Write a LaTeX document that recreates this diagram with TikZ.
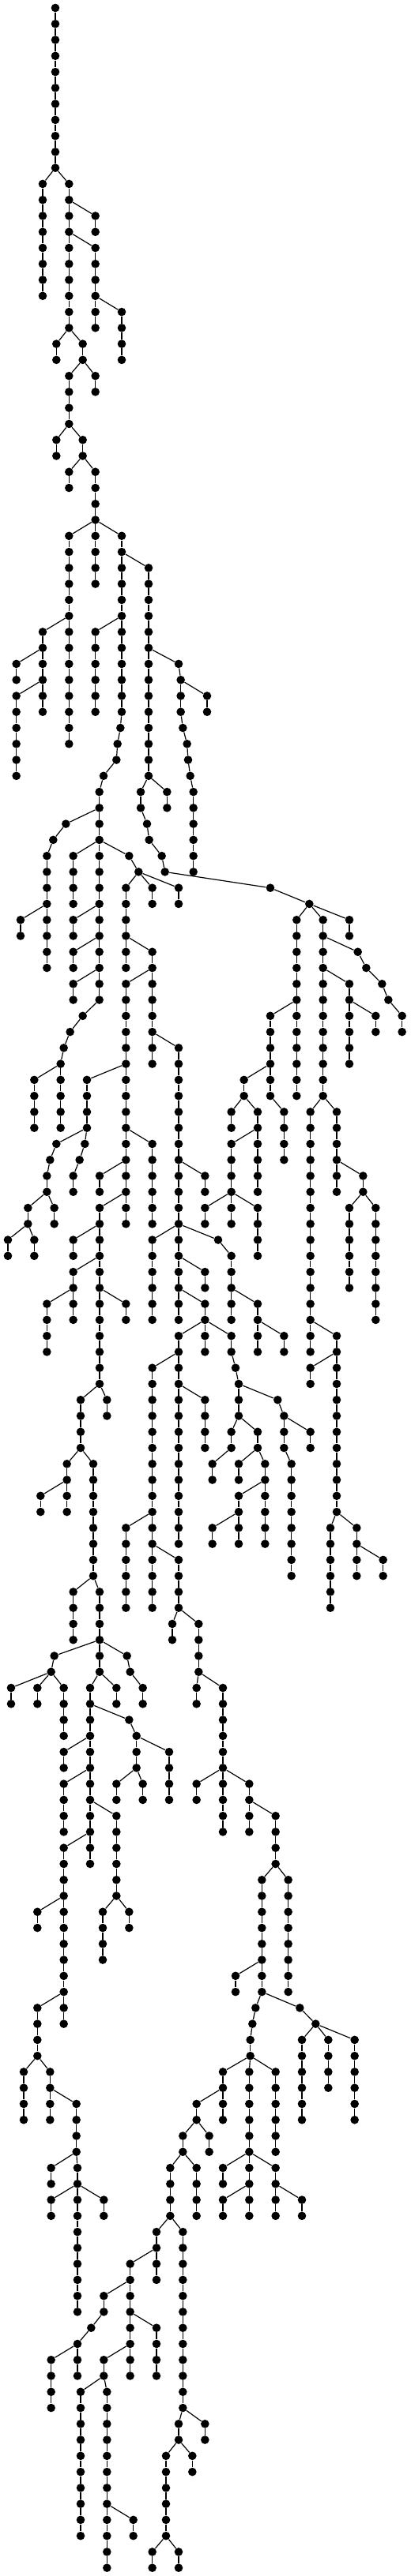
\documentclass[tikz,border=0pt]{standalone}
\tikzset{tnode/.style={circle,fill=black,draw=none,inner sep=0pt,minimum size=5.3pt},
lnk/.style={line width=0.6pt,black}}
\newcommand\mychain[3]{%
 \foreach \l in {#2,...,#3}{\node[tnode] (n#1-\l) at (#1,\l) {};}%
 \ifnum#3>#2\relax
 \foreach \l in {#2,...,#3}{\ifnum\l<#3\relax\pgfmathtruncatemacro\lnx{\l+1}\draw[lnk] (n#1-\l) -- (n#1-\lnx);\fi}%
 \fi}
\newcommand\mylink[4]{\draw[lnk] (n#1-#2) -- (n#3-#4);}
\begin{document}
\begin{tikzpicture}[x=0.166667pt,y=-10.13333pt]
\useasboundingbox (0,-0.4934) rectangle (1557,160.51);
\mychain{210}{0}{10}
\mychain{162}{11}{18} \mylink{210}{10}{162}{11}
\mychain{262}{11}{20} \mylink{210}{10}{262}{11}
\mychain{362}{13}{14} \mylink{262}{12}{362}{13}
\mychain{362}{15}{20} \mylink{262}{14}{362}{15}
\mychain{462}{19}{22} \mylink{362}{18}{462}{19}
\mychain{214}{21}{22} \mylink{262}{20}{214}{21}
\mychain{314}{21}{22} \mylink{262}{20}{314}{21}
\mychain{262}{23}{26} \mylink{314}{22}{262}{23}
\mychain{362}{23}{24} \mylink{314}{22}{362}{23}
\mychain{214}{27}{28} \mylink{262}{26}{214}{27}
\mychain{314}{27}{28} \mylink{262}{26}{314}{27}
\mychain{262}{29}{30} \mylink{314}{28}{262}{29}
\mychain{362}{29}{36} \mylink{314}{28}{362}{29}
\mychain{262}{33}{46} \mylink{362}{32}{262}{33}
\mychain{462}{33}{44} \mylink{362}{32}{462}{33}
\mychain{564}{35}{48} \mylink{462}{34}{564}{35}
\mychain{162}{39}{44} \mylink{262}{38}{162}{39}
\mychain{362}{39}{44} \mylink{462}{38}{362}{39}
\mychain{62}{41}{42} \mylink{162}{40}{62}{41}
\mychain{62}{43}{48} \mylink{162}{42}{62}{43}
\mychain{457}{45}{45} \mylink{462}{44}{457}{45}
\mychain{446}{46}{46} \mylink{457}{45}{446}{46}
\mychain{442}{47}{47} \mylink{446}{46}{442}{47}
\mychain{393}{48}{48} \mylink{442}{47}{393}{48}
\mychain{377}{49}{62} \mylink{393}{48}{377}{49}
\mychain{250}{51}{51} \mylink{377}{50}{250}{51}
\mychain{202}{52}{52} \mylink{250}{51}{202}{52}
\mychain{178}{53}{60} \mylink{202}{52}{178}{53}
\mychain{278}{53}{56} \mylink{377}{52}{278}{53}
\mychain{490}{53}{53} \mylink{377}{52}{490}{53}
\mychain{526}{54}{54} \mylink{490}{53}{526}{54}
\mychain{678}{41}{41} \mylink{564}{40}{678}{41}
\mychain{686}{42}{44} \mylink{678}{41}{686}{42}
\mychain{786}{43}{44} \mylink{686}{42}{786}{43}
\mychain{694}{45}{45} \mylink{686}{44}{694}{45}
\mychain{710}{46}{46} \mylink{694}{45}{710}{46}
\mychain{714}{47}{47} \mylink{710}{46}{714}{47}
\mychain{722}{48}{48} \mylink{714}{47}{722}{48}
\mychain{734}{49}{54} \mylink{722}{48}{734}{49}
\mychain{534}{49}{50} \mylink{564}{48}{534}{49}
\mychain{634}{49}{50} \mylink{564}{48}{634}{49}
\mychain{558}{51}{51} \mylink{534}{50}{558}{51}
\mychain{566}{52}{52} \mylink{558}{51}{566}{52}
\mychain{614}{53}{53} \mylink{566}{52}{614}{53}
\mychain{626}{54}{54} \mylink{614}{53}{626}{54}
\mychain{78}{57}{58} \mylink{178}{56}{78}{57}
\mychain{278}{57}{58} \mylink{377}{56}{278}{57}
\mychain{278}{59}{60} \mylink{377}{58}{278}{59}
\mychain{278}{61}{62} \mylink{377}{60}{278}{61}
\mychain{314}{63}{63} \mylink{377}{62}{314}{63}
\mychain{266}{64}{64} \mylink{314}{63}{266}{64}
\mychain{242}{65}{65} \mylink{266}{64}{242}{65}
\mychain{230}{66}{70} \mylink{242}{65}{230}{66}
\mychain{130}{67}{70} \mylink{230}{66}{130}{67}
\mychain{578}{55}{56} \mylink{526}{54}{578}{55}
\mychain{678}{55}{56} \mylink{526}{54}{678}{55}
\mychain{478}{55}{60} \mylink{526}{54}{478}{55}
\mychain{578}{59}{66} \mylink{478}{58}{578}{59}
\mychain{478}{61}{76} \mylink{578}{60}{478}{61}
\mychain{678}{65}{82} \mylink{578}{64}{678}{65}
\mychain{330}{67}{70} \mylink{478}{66}{330}{67}
\mychain{1026}{55}{55} \mylink{626}{54}{1026}{55}
\mychain{1174}{56}{56} \mylink{1026}{55}{1174}{56}
\mychain{1126}{57}{68} \mylink{1174}{56}{1126}{57}
\mychain{1226}{57}{68} \mylink{1174}{56}{1226}{57}
\mychain{1326}{57}{58} \mylink{1174}{56}{1326}{57}
\mychain{1358}{59}{59} \mylink{1226}{58}{1358}{59}
\mychain{1390}{60}{60} \mylink{1358}{59}{1390}{60}
\mychain{1450}{61}{61} \mylink{1390}{60}{1450}{61}
\mychain{1474}{62}{62} \mylink{1450}{61}{1474}{62}
\mychain{1526}{63}{64} \mylink{1474}{62}{1526}{63}
\mychain{1326}{61}{66} \mylink{1226}{60}{1326}{61}
\mychain{1426}{63}{64} \mylink{1326}{62}{1426}{63}
\mychain{1026}{63}{68} \mylink{1126}{62}{1026}{63}
\mychain{1078}{69}{72} \mylink{1026}{68}{1078}{69}
\mychain{926}{67}{68} \mylink{1026}{66}{926}{67}
\mychain{878}{69}{70} \mylink{926}{68}{878}{69}
\mychain{978}{69}{74} \mylink{926}{68}{978}{69}
\mychain{878}{71}{76} \mylink{978}{70}{878}{71}
\mychain{778}{75}{76} \mylink{878}{74}{778}{75}
\mychain{978}{75}{78} \mylink{878}{74}{978}{75}
\mychain{1178}{69}{84} \mylink{1226}{68}{1178}{69}
\mychain{1278}{69}{74} \mylink{1226}{68}{1278}{69}
\mychain{1378}{73}{74} \mylink{1278}{72}{1378}{73}
\mychain{1326}{75}{80} \mylink{1378}{74}{1326}{75}
\mychain{1426}{75}{82} \mylink{1378}{74}{1426}{75}
\mychain{214}{71}{71} \mylink{330}{70}{214}{71}
\mychain{190}{72}{72} \mylink{214}{71}{190}{72}
\mychain{178}{73}{74} \mylink{190}{72}{178}{73}
\mychain{206}{75}{76} \mylink{178}{74}{206}{75}
\mychain{106}{75}{76} \mylink{178}{74}{106}{75}
\mychain{30}{77}{78} \mylink{106}{76}{30}{77}
\mychain{130}{77}{78} \mylink{106}{76}{130}{77}
\mychain{322}{71}{71} \mylink{330}{70}{322}{71}
\mychain{302}{72}{72} \mylink{322}{71}{302}{72}
\mychain{278}{73}{74} \mylink{302}{72}{278}{73}
\mychain{578}{71}{76} \mylink{478}{70}{578}{71}
\mychain{378}{73}{74} \mylink{478}{72}{378}{73}
\mychain{378}{75}{86} \mylink{478}{74}{378}{75}
\mychain{278}{77}{78} \mylink{378}{76}{278}{77}
\mychain{278}{79}{82} \mylink{378}{78}{278}{79}
\mychain{178}{81}{84} \mylink{278}{80}{178}{81}
\mychain{478}{81}{82} \mylink{378}{80}{478}{81}
\mychain{406}{87}{88} \mylink{378}{86}{406}{87}
\mychain{306}{87}{90} \mylink{378}{86}{306}{87}
\mychain{254}{91}{94} \mylink{306}{90}{254}{91}
\mychain{354}{91}{98} \mylink{306}{90}{354}{91}
\mychain{154}{93}{94} \mylink{254}{92}{154}{93}
\mychain{778}{73}{74} \mylink{678}{72}{778}{73}
\mychain{578}{77}{82} \mylink{678}{76}{578}{77}
\mychain{828}{77}{77} \mylink{678}{76}{828}{77}
\mychain{878}{78}{82} \mylink{828}{77}{878}{78}
\mychain{778}{79}{80} \mylink{678}{78}{778}{79}
\mychain{778}{81}{84} \mylink{678}{80}{778}{81}
\mychain{678}{83}{96} \mylink{778}{82}{678}{83}
\mychain{878}{83}{84} \mylink{778}{82}{878}{83}
\mychain{894}{85}{85} \mylink{878}{84}{894}{85}
\mychain{906}{86}{88} \mylink{894}{85}{906}{86}
\mychain{978}{81}{84} \mylink{878}{80}{978}{81}
\mychain{1078}{83}{84} \mylink{978}{82}{1078}{83}
\mychain{578}{85}{100} \mylink{678}{84}{578}{85}
\mychain{778}{87}{90} \mylink{678}{86}{778}{87}
\mychain{1054}{87}{87} \mylink{906}{86}{1054}{87}
\mychain{1078}{88}{90} \mylink{1054}{87}{1078}{88}
\mychain{1106}{91}{98} \mylink{1078}{90}{1106}{91}
\mychain{1178}{89}{90} \mylink{1078}{88}{1178}{89}
\mychain{878}{89}{90} \mylink{906}{88}{878}{89}
\mychain{978}{89}{90} \mylink{906}{88}{978}{89}
\mychain{806}{91}{92} \mylink{878}{90}{806}{91}
\mychain{906}{91}{92} \mylink{978}{90}{906}{91}
\mychain{1006}{91}{96} \mylink{978}{90}{1006}{91}
\mychain{906}{93}{96} \mylink{1006}{92}{906}{93}
\mychain{806}{95}{96} \mylink{906}{94}{806}{95}
\mychain{1278}{83}{94} \mylink{1178}{82}{1278}{83}
\mychain{1178}{85}{86} \mylink{1278}{84}{1178}{85}
\mychain{1254}{95}{100} \mylink{1278}{94}{1254}{95}
\mychain{1354}{95}{98} \mylink{1278}{94}{1354}{95}
\mychain{1454}{97}{98} \mylink{1354}{96}{1454}{97}
\mychain{478}{95}{100} \mylink{578}{94}{478}{95}
\mychain{678}{97}{100} \mylink{578}{96}{678}{97}
\mychain{654}{101}{102} \mylink{678}{100}{654}{101}
\mychain{754}{101}{104} \mylink{678}{100}{754}{101}
\mychain{746}{105}{106} \mylink{754}{104}{746}{105}
\mychain{846}{105}{114} \mylink{754}{104}{846}{105}
\mychain{746}{111}{112} \mylink{846}{110}{746}{111}
\mychain{946}{111}{114} \mylink{846}{110}{946}{111}
\mychain{1046}{113}{116} \mylink{946}{112}{1046}{113}
\mychain{994}{117}{124} \mylink{1046}{116}{994}{117}
\mychain{1094}{117}{124} \mylink{1046}{116}{1094}{117}
\mychain{894}{123}{124} \mylink{994}{122}{894}{123}
\mychain{970}{125}{125} \mylink{994}{124}{970}{125}
\mychain{958}{126}{126} \mylink{970}{125}{958}{126}
\mychain{950}{127}{128} \mylink{958}{126}{950}{127}
\mychain{1138}{125}{125} \mylink{994}{124}{1138}{125}
\mychain{1198}{126}{126} \mylink{1138}{125}{1198}{126}
\mychain{1146}{127}{132} \mylink{1198}{126}{1146}{127}
\mychain{1246}{127}{130} \mylink{1198}{126}{1246}{127}
\mychain{1346}{127}{132} \mylink{1198}{126}{1346}{127}
\mychain{846}{129}{132} \mylink{950}{128}{846}{129}
\mychain{946}{129}{138} \mylink{950}{128}{946}{129}
\mychain{1046}{129}{134} \mylink{950}{128}{1046}{129}
\mychain{746}{131}{132} \mylink{846}{130}{746}{131}
\mychain{694}{133}{134} \mylink{746}{132}{694}{133}
\mychain{794}{133}{134} \mylink{746}{132}{794}{133}
\mychain{646}{135}{138} \mylink{694}{134}{646}{135}
\mychain{746}{135}{138} \mylink{694}{134}{746}{135}
\mychain{594}{139}{142} \mylink{646}{138}{594}{139}
\mychain{694}{139}{150} \mylink{646}{138}{694}{139}
\mychain{846}{135}{136} \mylink{946}{134}{846}{135}
\mychain{1046}{135}{138} \mylink{946}{134}{1046}{135}
\mychain{846}{137}{138} \mylink{946}{136}{846}{137}
\mychain{1146}{137}{138} \mylink{1046}{136}{1146}{137}
\mychain{494}{141}{148} \mylink{594}{140}{494}{141}
\mychain{394}{143}{144} \mylink{494}{142}{394}{143}
\mychain{346}{145}{145} \mylink{394}{144}{346}{145}
\mychain{294}{146}{148} \mylink{346}{145}{294}{146}
\mychain{194}{147}{150} \mylink{294}{146}{194}{147}
\mychain{594}{145}{148} \mylink{494}{144}{594}{145}
\mychain{394}{147}{148} \mylink{494}{146}{394}{147}
\mychain{306}{149}{158} \mylink{394}{148}{306}{149}
\mychain{406}{149}{160} \mylink{394}{148}{406}{149}
\mychain{506}{157}{158} \mylink{406}{156}{506}{157}
\mychain{678}{151}{152} \mylink{694}{150}{678}{151}
\mychain{778}{151}{152} \mylink{694}{150}{778}{151}
\mychain{630}{153}{158} \mylink{678}{152}{630}{153}
\mychain{730}{153}{154} \mylink{678}{152}{730}{153}
\mychain{578}{159}{160} \mylink{630}{158}{578}{159}
\mychain{678}{159}{160} \mylink{630}{158}{678}{159}
\mychain{278}{99}{102} \mylink{354}{98}{278}{99}
\mychain{378}{99}{104} \mylink{354}{98}{378}{99}
\mychain{206}{103}{103} \mylink{378}{102}{206}{103}
\mychain{194}{104}{104} \mylink{206}{103}{194}{104}
\mychain{42}{105}{106} \mylink{194}{104}{42}{105}
\mychain{142}{105}{106} \mylink{194}{104}{142}{105}
\mychain{242}{105}{108} \mylink{194}{104}{242}{105}
\mychain{482}{103}{103} \mylink{378}{102}{482}{103}
\mychain{494}{104}{104} \mylink{482}{103}{494}{104}
\mychain{542}{105}{106} \mylink{494}{104}{542}{105}
\mychain{342}{105}{116} \mylink{378}{104}{342}{105}
\mychain{442}{105}{106} \mylink{378}{104}{442}{105}
\mychain{490}{107}{107} \mylink{342}{106}{490}{107}
\mychain{518}{108}{110} \mylink{490}{107}{518}{108}
\mychain{642}{109}{112} \mylink{518}{108}{642}{109}
\mychain{442}{111}{112} \mylink{518}{110}{442}{111}
\mychain{542}{111}{112} \mylink{518}{110}{542}{111}
\mychain{242}{109}{110} \mylink{342}{108}{242}{109}
\mychain{242}{111}{114} \mylink{342}{110}{242}{111}
\mychain{442}{113}{118} \mylink{342}{112}{442}{113}
\mychain{242}{115}{126} \mylink{342}{114}{242}{115}
\mychain{390}{119}{122} \mylink{442}{118}{390}{119}
\mychain{490}{119}{120} \mylink{442}{118}{490}{119}
\mychain{142}{119}{120} \mylink{242}{118}{142}{119}
\mychain{142}{125}{128} \mylink{242}{124}{142}{125}
\mychain{90}{129}{132} \mylink{142}{128}{90}{129}
\mychain{190}{129}{132} \mylink{142}{128}{190}{129}
\mychain{290}{131}{134} \mylink{190}{130}{290}{131}
\mychain{194}{135}{136} \mylink{290}{134}{194}{135}
\mychain{294}{135}{144} \mylink{290}{134}{294}{135}
\mychain{194}{137}{138} \mylink{294}{136}{194}{137}
\mychain{394}{137}{138} \mylink{294}{136}{394}{137}
\end{tikzpicture}
\end{document}
